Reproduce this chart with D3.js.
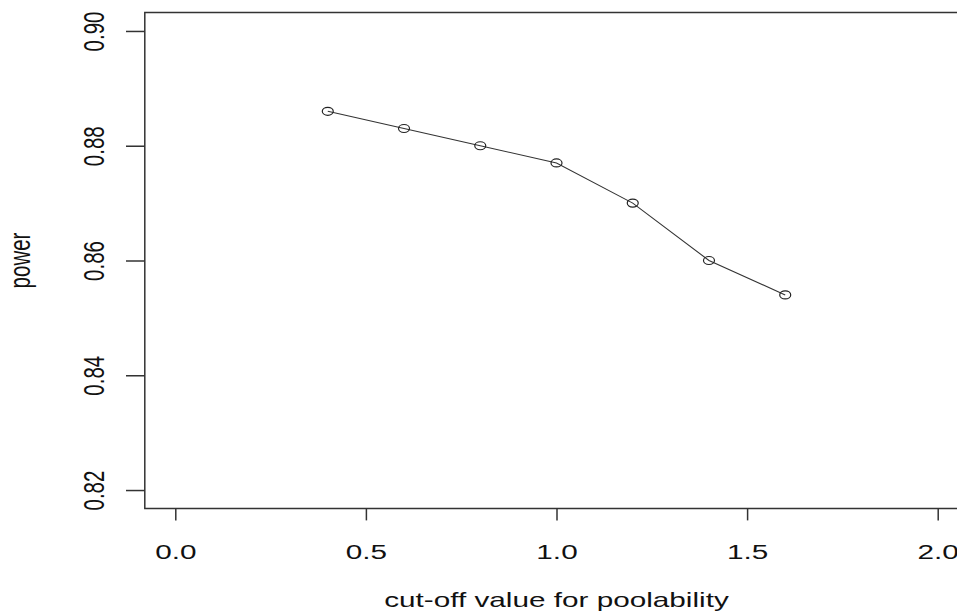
<!DOCTYPE html>
<html>
<head>
<meta charset="utf-8">
<script src="https://cdn.jsdelivr.net/npm/d3@7"></script>
<style>
  html, body { margin: 0; padding: 0; background: #fff; }
  svg text { font-family: "Liberation Sans", Arial, sans-serif; fill: #111; }
</style>
</head>
<body>
<div id="chart-container"></div>
<script>
// values
var cutoff = [0.4, 0.6, 0.8, 1.0, 1.2, 1.4, 1.6];
var power = [0.886, 0.883, 0.880, 0.877, 0.870, 0.860, 0.854];
var xTicks = [0, 0.5, 1.0, 1.5, 2.0];
var yTicks = [0.82, 0.84, 0.86, 0.88, 0.90];

var width = 957, height = 614;
var stretch = 1.45; // the picture is wider than it is tall, text is stretched too
var fontSize = 20.5;

var svg = d3.select("#chart-container")
    .append("svg")
    .attr("width", width)
    .attr("height", height);

// R style ranges: data range plus 4% on each side
var xScale = d3.scaleLinear()
    .domain([-0.08, 2.08])
    .range([144.8, 968.2]);

var yScale = d3.scaleLinear()
    .domain([0.8168, 0.9032])
    .range([508.4, 12.6]);

var x0 = xScale.range()[0], x1 = xScale.range()[1];
var yTop = yScale.range()[1], yBot = yScale.range()[0];

// plot box (right side falls outside the window)
svg.append("path")
    .attr("d", "M" + x1 + "," + yTop + "H" + x0 + "V" + yBot + "H" + x1)
    .attr("fill", "none")
    .attr("stroke", "#333")
    .attr("stroke-width", 1.5);

// x axis
var xAxisGroup = svg.append("g")
    .attr("transform", "translate(0," + yBot + ")")
    .call(d3.axisBottom(xScale).tickValues(xTicks).tickFormat(d3.format(".1f")).tickSize(12).tickSizeOuter(0));
xAxisGroup.select(".domain").remove();
xAxisGroup.selectAll(".tick line").attr("stroke", "#333").attr("stroke-width", 1.5);
xAxisGroup.selectAll(".tick text")
    .attr("y", null)
    .attr("dy", null)
    .attr("fill", "#111")
    .style("font-size", fontSize + "px")
    .attr("text-anchor", "middle")
    .attr("transform", "translate(0,50.6) scale(" + stretch + ",1)");

// y axis
var yAxisGroup = svg.append("g")
    .attr("transform", "translate(" + x0 + ",0)")
    .call(d3.axisLeft(yScale).tickValues(yTicks).tickFormat(d3.format(".2f")).tickSize(18.8).tickSizeOuter(0));
yAxisGroup.select(".domain").remove();
yAxisGroup.selectAll(".tick line").attr("stroke", "#333").attr("stroke-width", 1.5);
yAxisGroup.selectAll(".tick text")
    .attr("x", null)
    .attr("dy", null)
    .attr("fill", "#111")
    .style("font-size", fontSize + "px")
    .attr("text-anchor", "middle")
    .attr("transform", "translate(-40.8,0) scale(" + stretch + ",1) rotate(-90)");

// axis titles
svg.append("text")
    .attr("transform", "translate(" + ((x0 + x1) / 2) + ",606.5) scale(" + stretch + ",1)")
    .attr("text-anchor", "middle")
    .style("font-size", fontSize + "px")
    .text("cut-off value for poolability");

svg.append("text")
    .attr("transform", "translate(30," + ((yTop + yBot) / 2) + ") scale(" + stretch + ",1) rotate(-90)")
    .attr("text-anchor", "middle")
    .style("font-size", fontSize + "px")
    .text("power");

// line with open circles
var points = cutoff.map(function(c, i) { return {x: c, y: power[i]}; });

var line = d3.line()
    .x(function(d) { return xScale(d.x); })
    .y(function(d) { return yScale(d.y); });

svg.append("path")
    .datum(points)
    .attr("fill", "none")
    .attr("stroke", "#333")
    .attr("stroke-width", 1.1)
    .attr("d", line);

svg.selectAll("ellipse.pt")
    .data(points)
    .enter()
    .append("ellipse")
    .attr("class", "pt")
    .attr("cx", function(d) { return xScale(d.x); })
    .attr("cy", function(d) { return yScale(d.y); })
    .attr("rx", 5.5)
    .attr("ry", 4)
    .attr("fill", "none")
    .attr("stroke", "#222")
    .attr("stroke-width", 1.2);
</script>
</body>
</html>
